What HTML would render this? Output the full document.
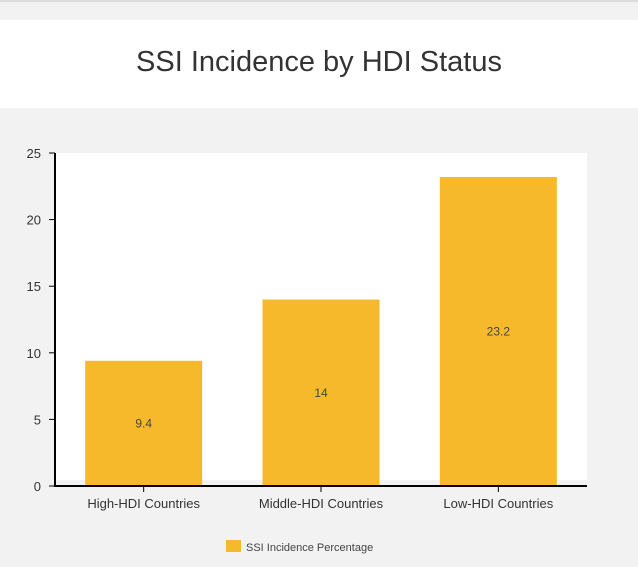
<!DOCTYPE html>
<html><head><meta charset="utf-8"><style>
body{margin:0;width:638px;height:567px;background:#f2f2f2;font-family:"Liberation Sans",sans-serif;overflow:hidden;position:relative}
</style></head><body>
<div style="position:absolute;left:0;top:0;width:638px;height:2px;background:#dcdcdc"></div>
<div style="position:absolute;left:0;top:20px;width:638px;height:88px;background:#fff"></div>
<div style="position:absolute;left:0;top:46px;width:638px;text-align:center;font-size:29px;color:#333">SSI Incidence by HDI Status</div>
<svg id="chart" width="638" height="567" style="position:absolute;left:0;top:0"></svg>
<script>
const categories=["High-HDI Countries","Middle-HDI Countries","Low-HDI Countries"];
const values=[9.4,14,23.2];
const yTicks=[0,5,10,15,20,25];
const seriesName="SSI Incidence Percentage";
const NS="http://www.w3.org/2000/svg";
const svg=document.getElementById('chart');
const L=55,R=587,T=153,B=486,ymax=25;
const y=v=>B-(v/ymax)*(B-T);
const bw=(R-L)/categories.length;
const x=i=>L+bw*i+bw/2;
function mk(t,a){const e=document.createElementNS(NS,t);for(const k in a)e.setAttribute(k,a[k]);svg.appendChild(e);return e;}
let p=mk('rect',{x:L,y:T,width:R-L,height:B-6-T,fill:'#fff'});


values.forEach((v,i)=>{
 const r=mk('rect',{x:x(i)-58.5,y:y(v),width:117,height:B-y(v),fill:'#f6b92b'});
 
 
 const t=mk('text',{x:x(i),y:(y(v)+B)/2+4,'text-anchor':'middle','font-size':12,fill:'#444'});
 t.textContent=String(v);
 
 
 const tk=mk('line',{x1:x(i),x2:x(i),y1:B,y2:B+6,stroke:'#000','stroke-width':1});
 
 
 const c=mk('text',{x:x(i),y:B+22,'text-anchor':'middle','font-size':13,fill:'#333'});
 c.textContent=categories[i];
 
 
});
yTicks.forEach(v=>{
 const tk=mk('line',{x1:L-6,x2:L,y1:y(v),y2:y(v),stroke:'#000','stroke-width':1});
 
 
 const t=mk('text',{x:L-14,y:y(v)+5,'text-anchor':'end','font-size':13,fill:'#333'});
 t.textContent=v;
 
 
});
let ax=mk('line',{x1:L,x2:L,y1:T,y2:B+1,stroke:'#000','stroke-width':2});


ax=mk('line',{x1:L-1,x2:R,y1:B,y2:B,stroke:'#000','stroke-width':2});


const lr=mk('rect',{x:226,y:540,width:15,height:12,fill:'#f6b92b'});


const lt=mk('text',{x:246,y:551,'font-size':11,fill:'#444'});
lt.textContent=seriesName;


</script>
</body></html>
